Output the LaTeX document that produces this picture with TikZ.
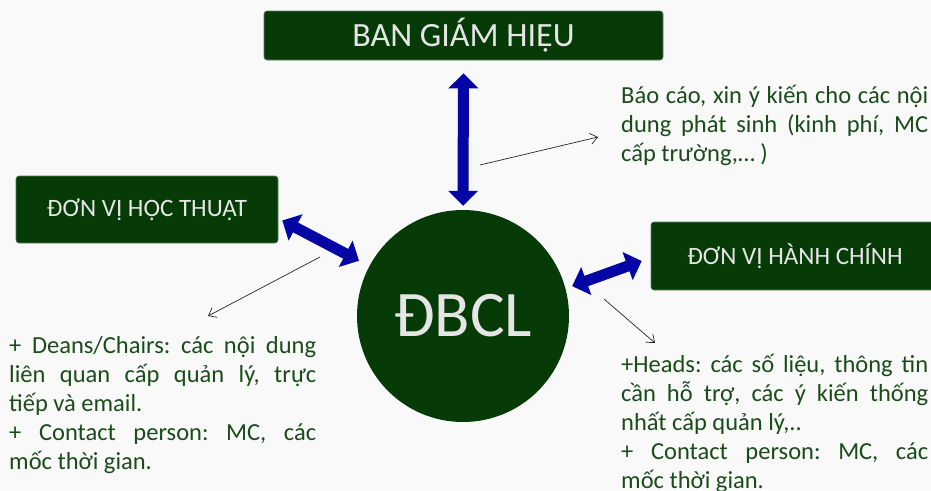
\documentclass[tikz,border=0pt]{standalone}
\usepackage{fontspec}
\setmainfont{Carlito}
\usepackage{xcolor}
\usetikzlibrary{arrows.meta}
\definecolor{boxgreen}{RGB}{6,58,6}
\definecolor{notegreen}{RGB}{26,76,26}
\definecolor{arrowblue}{RGB}{5,5,165}
\definecolor{paper}{RGB}{249,249,249}
\frenchspacing

\begin{document}
\begin{tikzpicture}[x=1pt,y=-1pt]
\tikzstyle{every node}+=[inner sep=0pt]
\tikzstyle{greenbox}=[draw=boxgreen!65!white, fill=boxgreen, line width=0.6pt, rounded corners=3pt, text=white!90!black]
\tikzstyle{bigarrow}=[draw=arrowblue, line width=11pt, {Triangle[width=29pt,length=15pt]}-{Triangle[width=29pt,length=15pt]}]
\tikzstyle{thinarrow}=[draw=black!85, line width=0.7pt, -{Straight Barb[length=7pt,width=11pt]}]
\tikzstyle{note}=[text=notegreen, text width=307pt, align=justify, anchor=base west, font=\fontsize{24.5}{29}\selectfont\sloppy\frenchspacing]
\fill [paper] (0,0) rectangle (931,490);
\useasboundingbox (0,0) rectangle (931,490);
\node [greenbox, minimum width=399, minimum height=49, font=\fontsize{34}{40}\selectfont] (bgh) at (463.5,35.5) {BAN GIÁM HIỆU};
\node [greenbox, minimum width=262, minimum height=67, font=\fontsize{25}{29}\selectfont] (ht) at (147,209.5) {ĐƠN VỊ HỌC THUẬT};
\node [greenbox, minimum width=288, minimum height=68, font=\fontsize{25}{29}\selectfont] (hcb) at (795,256) {ĐƠN VỊ HÀNH CHÍNH};
\node [circle, fill=boxgreen, minimum size=212, text=white!90!black, font=\fontsize{65}{72}\selectfont] (dbcl) at (463,316) {ĐBCL};
\node [note] (bc) at (621,103) {Báo cáo, xin ý kiến cho các nội\linebreak dung phát sinh (kinh phí, MC\linebreak cấp trường,… )};
\node [note] (ld) at (9,353) {+ Deans/Chairs: các nội dung\linebreak liên quan cấp quản lý, trực\linebreak tiếp và email.\par + Contact person: MC, các\linebreak mốc thời gian.};
\node [note] (hcn) at (621,372) {+Heads: các số liệu, thông tin\linebreak cần hỗ trợ, các ý kiến thống\linebreak nhất cấp quản lý,..\par + Contact person: MC, các\linebreak mốc thời gian.};
\draw [bigarrow, shorten <=13pt, shorten >=4pt] (bgh.south) -- (dbcl.north);
\draw [bigarrow, shorten >=11.6pt] ([shift={(4,11)}]ht.east) -- (dbcl.152);
\draw [bigarrow, shorten <=7pt] (dbcl.15) -- ([shift={(-9,5)}]hcb.west);
\coordinate (p1) at (480,165);
\coordinate (p2) at (320,257);
\coordinate (p3) at (604,299);
\draw [thinarrow] (p1) -- ([shift={(-23,34)}]bc.base west);
\draw [thinarrow] (p2) -- ([shift={(199,-37)}]ld.base west);
\draw [thinarrow] (p3) -- ([shift={(34,-29)}]hcn.base west);
\end{tikzpicture}
\end{document}
